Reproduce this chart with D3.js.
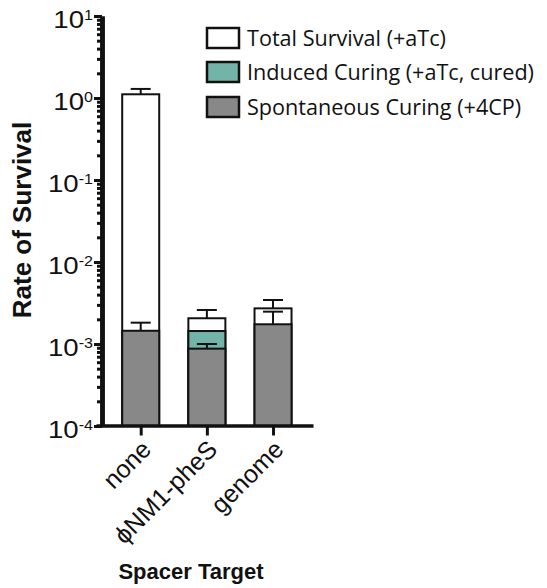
<!DOCTYPE html>
<html><head><meta charset="utf-8">
<script src="https://cdn.jsdelivr.net/npm/d3@7"></script>
<style>body{margin:0;background:#fff}</style>
</head><body><svg id="c" width="547" height="588"></svg>
<script>
// ---- data ----
const categories = ["none", "\u03D5NM1-pheS", "genome"];
const totalSurvival = [1.11, 2.06e-3, 2.72e-3];
const totalSurvivalUpper = [1.29, 2.6e-3, 3.44e-3];
const inducedCuring = [null, 1.44e-3, null];
const spontaneousCuring = [1.45e-3, 0.877e-3, 1.74e-3];
const spontaneousCuringUpper = [1.82e-3, 1.0e-3, 2.48e-3];
const yTickExponents = [1, 0, -1, -2, -3, -4];
const legendLabels = ["Total Survival (+aTc)", "Induced Curing (+aTc, cured)", "Spontaneous Curing (+4CP)"];
const seriesColors = ["#ffffff", "#72b4a7", "#888888"];

const svg = d3.select("#c");
const y = d3.scaleLog().domain([1e-4, 10]).range([426, 16]);
const x = d3.scalePoint().domain(categories).range([96, 313]).padding(0.64).align(0.528);
const axisX = 102;
const baseY = 426;
const barW = 37;

// bars (overlaid, drawn back to front)
const series = [
  {vals: totalSurvival, upper: totalSurvivalUpper, color: seriesColors[0]},
  {vals: inducedCuring, upper: null, color: seriesColors[1]},
  {vals: spontaneousCuring, upper: spontaneousCuringUpper, color: seriesColors[2]}
];
series.forEach(s => {
  const g = svg.append("g");
  categories.forEach((c, i) => {
    const v = s.vals[i];
    if (v == null) return;
    g.append("rect")
      .attr("x", x(c) - barW / 2).attr("y", y(v))
      .attr("width", barW).attr("height", baseY - y(v))
      .attr("fill", s.color).attr("stroke", "#111").attr("stroke-width", 2);
  });
});
series.forEach(s => {
  if (!s.upper) return;
  categories.forEach((c, i) => {
    const v = s.vals[i], u = s.upper[i];
    if (v == null || u == null) return;
    svg.append("line").attr("x1", x(c)).attr("x2", x(c)).attr("y1", y(v)).attr("y2", y(u))
      .attr("stroke", "#111").attr("stroke-width", 2);
    svg.append("line").attr("x1", x(c) - 10).attr("x2", x(c) + 10).attr("y1", y(u)).attr("y2", y(u))
      .attr("stroke", "#111").attr("stroke-width", 2);
  });
});

// y axis
const minor = [];
for (let e = -4; e < 1; e++) for (let k = 2; k <= 9; k++) minor.push(k * Math.pow(10, e));
const gyMinor = svg.append("g").attr("transform", `translate(${axisX},0)`)
  .call(d3.axisLeft(y).tickValues(minor).tickSize(5).tickSizeOuter(0).tickFormat(""));
const gy = svg.append("g").attr("transform", `translate(${axisX},0)`)
  .call(d3.axisLeft(y).tickValues(yTickExponents.map(e => Math.pow(10, e))).tickSize(8).tickSizeOuter(0).tickFormat(""));
[gyMinor, gy].forEach(g => {
  g.selectAll(".tick line").attr("stroke", "#111").attr("stroke-width", 3);
  g.select(".domain").attr("stroke", "#111").attr("stroke-width", 4.5);
});
yTickExponents.forEach(e => {
  const t = svg.append("text")
    .attr("transform", `translate(93,${y(Math.pow(10, e)) + 12}) scale(1.15,1)`)
    .attr("text-anchor", "end")
    .style("font-family", "Liberation Sans, Arial, sans-serif").style("font-size", "24px").attr("fill", "#111");
  t.append("tspan").text("10");
  t.append("tspan").attr("dy", -8).style("font-size", "14px").text(e < 0 ? "-" + (-e) : String(e));
});

// x axis
const gx = svg.append("g").attr("transform", `translate(0,${baseY - 0.5})`)
  .call(d3.axisBottom(x).tickSize(10).tickSizeOuter(0).tickFormat(""));
gx.selectAll(".tick line").attr("stroke", "#111").attr("stroke-width", 3);
gx.select(".domain").attr("stroke", "#111").attr("stroke-width", 3.5);
categories.forEach(c => {
  svg.append("text")
    .attr("transform", `translate(${x(c) + 12},${451}) rotate(-45)`)
    .attr("text-anchor", "end")
    .style("font-family", "Liberation Sans, Arial, sans-serif").style("font-size", "25px").attr("fill", "#111")
    .text(c);
});

// axis titles
svg.append("text").attr("transform", "translate(31,220) rotate(-90)").attr("text-anchor", "middle")
  .style("font-family", "Liberation Sans, Arial, sans-serif").style("font-size", "26px").style("font-weight", "bold")
  .attr("fill", "#111").text("Rate of Survival");
svg.append("text").attr("x", 191).attr("y", 579).attr("text-anchor", "middle")
  .style("font-family", "Liberation Sans, Arial, sans-serif").style("font-size", "22px").style("font-weight", "bold")
  .attr("fill", "#111").text("Spacer Target");

// legend
const legendCenters = [38, 72, 107];
legendLabels.forEach((l, i) => {
  svg.append("rect").attr("x", 207).attr("y", legendCenters[i] - 10).attr("width", 32).attr("height", 20)
    .attr("fill", seriesColors[i]).attr("stroke", "#111").attr("stroke-width", 2.5);
  svg.append("text").attr("x", 247).attr("y", legendCenters[i] + 8)
    .style("font-family", "Open Sans, sans-serif").style("font-size", "21.6px").attr("fill", "#111").text(l);
});
</script></body></html>
